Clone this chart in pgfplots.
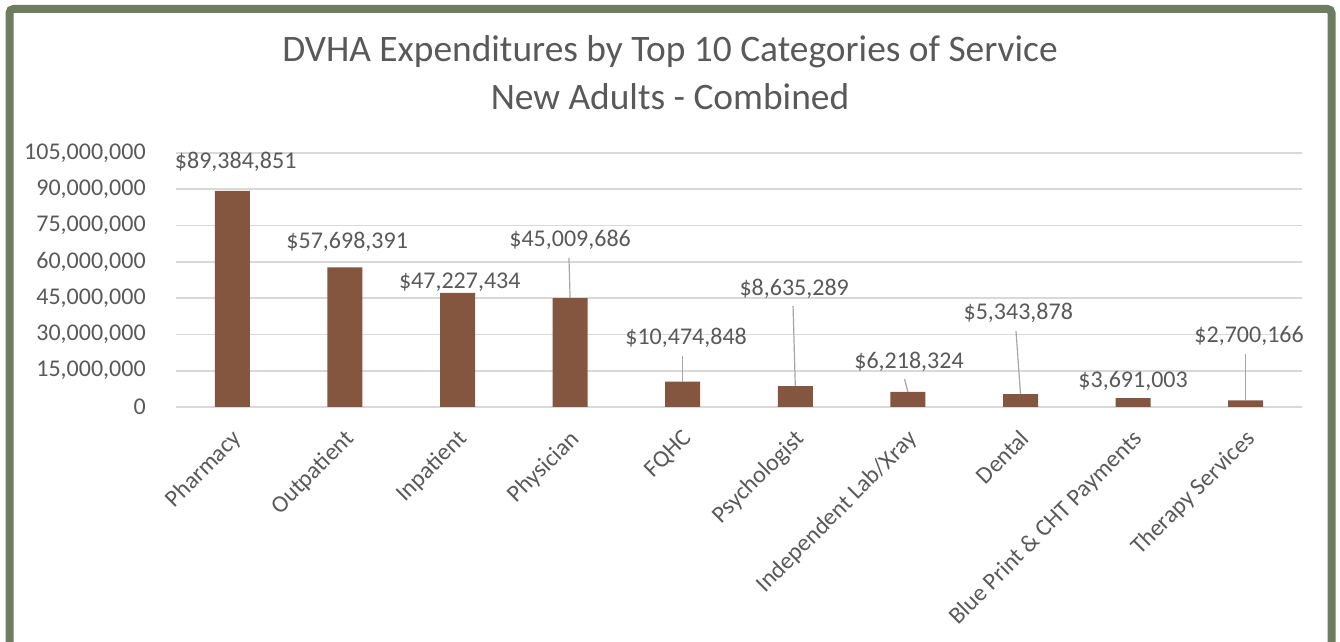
\documentclass[border=0pt]{standalone}
\usepackage{pgfplots}
\pgfplotsset{compat=1.18}
\usepackage{fontspec}
\setmainfont{Carlito}
\definecolor{barbrown}{RGB}{132,86,63}
\definecolor{txtgray}{RGB}{89,89,89}
\definecolor{gridgray}{RGB}{217,217,217}
\definecolor{framegreen}{RGB}{110,124,95}
\definecolor{leadgray}{RGB}{166,166,166}
\newcommand{\lbl}{\fontsize{12}{13}\selectfont}
\begin{document}
\begin{tikzpicture}[x=1pt,y=1pt]
\path[use as bounding box] (0pt,0pt) rectangle (670pt,321pt);
\draw[framegreen, line width=4pt, rounded corners=2pt] (4.75pt,-20pt) -- (4.75pt,316.5pt) -- (665.75pt,316.5pt) -- (665.75pt,-20pt);
\node[text=txtgray, font=\fontsize{18.7}{20}\selectfont] at (335pt,295pt) {DVHA Expenditures by Top 10 Categories of Service};
\node[text=txtgray, font=\fontsize{18.7}{20}\selectfont] at (335pt,272.5pt) {New Adults - Combined};
\begin{axis}[
  at={(88pt,117.5pt)}, anchor=south west,
  scale only axis, width=563pt, height=127pt,
  xmin=-0.5, xmax=9.5, ymin=0, ymax=105000000,
  ybar, bar width=17.5pt,
  axis x line=bottom, axis y line=left,
  y axis line style={draw=none},
  x axis line style={gridgray, line width=0.8pt, -},
  tick style={draw=none},
  ymajorgrids, grid style={gridgray, line width=0.8pt},
  ytick={0,15000000,30000000,45000000,60000000,75000000,90000000,105000000},
  scaled y ticks=false,
  /pgf/number format/assume math mode=true,
  yticklabel={\pgfmathprintnumber[fixed,1000 sep={,},precision=0]{\tick}},
  yticklabel style={font=\lbl, text=txtgray, xshift=-9.5pt},
  xtick={0,...,9},
  xticklabels={Pharmacy,Outpatient,Inpatient,Physician,FQHC,Psychologist,Independent Lab/Xray,Dental,Blue Print \& CHT Payments,Therapy Services},
  x tick label style={font=\lbl, text=txtgray, rotate=45, anchor=north east, xshift=-3pt, yshift=-2pt},
  clip=false,
]
\addplot[fill=barbrown, draw=none] coordinates {
 (0,89384851) (1,57698391) (2,47227434) (3,45009686) (4,10474848)
 (5,8635289) (6,6218324) (7,5343878) (8,3691003) (9,2700166)};
\draw[leadgray, line width=0.6pt] (axis cs:2.99,61600000) -- (axis cs:3.0,45009686);
\draw[leadgray, line width=0.6pt] (axis cs:4,21100000) -- (axis cs:4,10474848);
\draw[leadgray, line width=0.6pt] (axis cs:4.98,41800000) -- (axis cs:5,8635289);
\draw[leadgray, line width=0.6pt] (axis cs:5.97,11600000) -- (axis cs:6,6218324);
\draw[leadgray, line width=0.6pt] (axis cs:6.96,31400000) -- (axis cs:7,5343878);
\draw[leadgray, line width=0.6pt] (axis cs:9,21900000) -- (axis cs:9,2700166);
\node[font=\lbl, text=txtgray] at (axis cs:0.03,101300000) {\$89,384,851};
\node[font=\lbl, text=txtgray] at (axis cs:1.02,68200000) {\$57,698,391};
\node[font=\lbl, text=txtgray] at (axis cs:2.02,51700000) {\$47,227,434};
\node[font=\lbl, text=txtgray] at (axis cs:3.0,69000000) {\$45,009,686};
\node[font=\lbl, text=txtgray] at (axis cs:4.03,28500000) {\$10,474,848};
\node[font=\lbl, text=txtgray] at (axis cs:4.99,48800000) {\$8,635,289};
\node[font=\lbl, text=txtgray] at (axis cs:6.01,18600000) {\$6,218,324};
\node[font=\lbl, text=txtgray] at (axis cs:6.98,38900000) {\$5,343,878};
\node[font=\lbl, text=txtgray] at (axis cs:8.0,10700000) {\$3,691,003};
\node[font=\lbl, text=txtgray] at (axis cs:9.03,29400000) {\$2,700,166};
\end{axis}
\end{tikzpicture}
\end{document}
